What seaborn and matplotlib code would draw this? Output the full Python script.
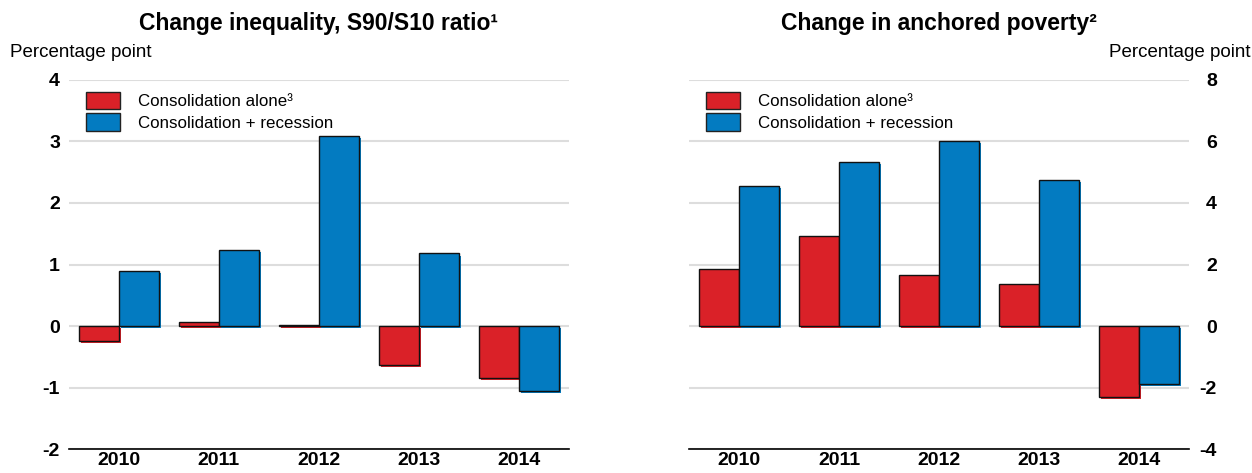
import pandas as pd
import matplotlib
matplotlib.use("Agg")
import matplotlib.pyplot as plt
import matplotlib.patheffects as pe
from matplotlib.patches import Patch
import seaborn as sns

# Data
years = ["2010", "2011", "2012", "2013", "2014"]
series = ["Consolidation alone³", "Consolidation + recession"]
ineq_alone = [-0.24, 0.06, 0.01, -0.63, -0.85]
ineq_recession = [0.90, 1.24, 3.09, 1.18, -1.05]
pov_alone = [1.84, 2.94, 1.65, 1.35, -2.31]
pov_recession = [4.55, 5.32, 6.02, 4.74, -1.87]

colors = ["#DA2128", "#037BC1"]

sns.set_style("white")
plt.rcParams["font.family"] = ["Liberation Sans", "DejaVu Sans"]
plt.rcParams["axes.unicode_minus"] = False
plt.rcParams["text.color"] = "black"
plt.rcParams["xtick.color"] = "black"
plt.rcParams["ytick.color"] = "black"
plt.rcParams["xtick.labelcolor"] = "black"
plt.rcParams["ytick.labelcolor"] = "black"


def long_df(a, b):
    return pd.DataFrame({
        "year": years * 2,
        "series": [series[0]] * len(years) + [series[1]] * len(years),
        "value": a + b,
    })


fig = plt.figure(figsize=(12.52, 4.73), dpi=100)
ax1 = fig.add_axes([0.0551, 0.0507, 0.3990, 0.7802])
ax2 = fig.add_axes([0.5503, 0.0507, 0.3994, 0.7802])

panels = [
    (ax1, long_df(ineq_alone, ineq_recession), "Change inequality, S90/S10 ratio¹", (-2, 4), 1),
    (ax2, long_df(pov_alone, pov_recession), "Change in anchored poverty²", (-4, 8), 2),
]

for ax, df, title, ylim, step in panels:
    sns.barplot(data=df, x="year", y="value", hue="series", palette=colors,
                width=0.8, edgecolor="#111111", linewidth=1.0, ax=ax,
                saturation=1, legend=False)
    for bar, col in zip(ax.patches, [colors[0]] * 5 + [colors[1]] * 5):
        bar.set_path_effects([pe.SimplePatchShadow(offset=(1.5, -1.5), shadow_rgbFace=col, alpha=1),
                              pe.Normal()])
    ax.set_xlim(-0.5, 4.5)
    ax.set_ylim(*ylim)
    ax.set_yticks(range(ylim[0], ylim[1] + 1, step))
    ax.grid(axis="y", color="#dddddd", linewidth=1.5)
    ax.set_axisbelow(True)
    ax.set_xlabel("")
    ax.set_ylabel("")
    for s in ["top", "left", "right"]:
        ax.spines[s].set_visible(False)
    ax.spines["bottom"].set_color("black")
    ax.spines["bottom"].set_linewidth(1.2)
    ax.tick_params(axis="x", direction="in", length=5, color="#888888", labelsize=14, pad=2)
    ax.tick_params(axis="y", length=0, labelsize=14, pad=6.5)
    ax.text(0.5, 1.153, title, transform=ax.transAxes, ha="center", va="center",
            fontsize=16.5, fontweight="bold")
    handles = [Patch(facecolor=c, edgecolor="#222222", linewidth=1.0) for c in colors]
    ax.legend(handles, series, loc="upper left", bbox_to_anchor=(0.004, 1.01),
              frameon=False, fontsize=12.2, handlelength=2.0, handleheight=1.2,
              handletextpad=1.05, labelspacing=0.25)

ax2.yaxis.tick_right()
ax2.tick_params(axis="y", length=0, pad=20)

for ax in (ax1, ax2):
    for t in ax.xaxis.get_major_ticks() + ax.yaxis.get_major_ticks():
        t.label1.set_fontweight("bold")
        t.label2.set_fontweight("bold")
for t in ax2.yaxis.get_major_ticks():
    t.label2.set_horizontalalignment("right")

fig.text(0.008, 0.89, "Percentage point", ha="left", va="center", fontsize=13.5)
fig.text(0.999, 0.89, "Percentage point", ha="right", va="center", fontsize=13.5)

fig.savefig("out.png", dpi=100)
